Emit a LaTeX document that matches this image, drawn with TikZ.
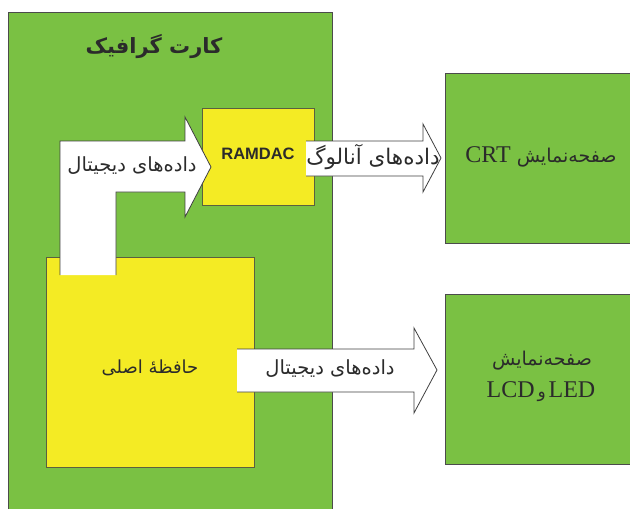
\documentclass[tikz,border=0pt]{standalone}
\usepackage{fontspec}
\setmainfont{Liberation Serif}
\newfontfamily\arabicfont[Script=Arabic]{DejaVu Sans}
\newfontfamily\ramfont{Liberation Sans}
\TeXXeTstate=1
\definecolor{cardgreen}{HTML}{7AC143}
\definecolor{chipyellow}{HTML}{F4EB24}
\definecolor{inkdark}{HTML}{2B2B2B}
\definecolor{edgegrey}{HTML}{5A6040}
\newcommand{\latinbig}{\rmfamily\fontsize{24}{28}\selectfont}
\tikzset{
  greenbox/.style={fill=cardgreen,draw=inkdark!85,line width=1pt},
  chipbox/.style={fill=chipyellow,draw=edgegrey,line width=1pt},
  arrowfill/.style={fill=white,draw=none},
  arrowedge/.style={draw=inkdark!90,line width=0.8pt,line join=miter},
  lbl/.style={text=inkdark,inner sep=0pt,align=center},
  farsi/.style={lbl,font=\arabicfont\fontsize{19.5}{23}\selectfont}
}
\begin{document}
\begin{tikzpicture}[x=1pt,y=-1pt]
\useasboundingbox (0,0) rectangle (630,509);
\begin{scope}
\clip (0,0) rectangle (630,509);
\path[greenbox] (8.5,12) rectangle (332,520);
\path[chipbox] (202.5,108) rectangle (314.5,205);
\path[chipbox] (46.5,257.5) rectangle (254.5,467);
\path[greenbox] (445.5,73.5) rectangle (640,243);
\path[greenbox] (445.5,294) rectangle (640,464);
% arrow 1
\path[arrowfill] (60,275) -- (60,141) -- (185,141) -- (185,117) -- (211,167) -- (185,217) -- (185,192) -- (116,192) -- (116,275) -- cycle;
\draw[arrowedge] (60,275) -- (60,141) -- (185,141) -- (185,117) -- (211,167) -- (185,217) -- (185,192) -- (116,192) -- (116,275);
% arrow 2
\path[arrowfill] (306,141) -- (423,141) -- (423,124) -- (441,158) -- (423,192) -- (423,176) -- (306,176) -- cycle;
\draw[arrowedge] (306,141) -- (423,141) -- (423,124) -- (441,158) -- (423,192) -- (423,176) -- (306,176);
% arrow 3
\path[arrowfill] (237,349) -- (414,349) -- (414,328) -- (437,370) -- (414,413) -- (414,392) -- (237,392) -- cycle;
\draw[arrowedge] (237,349) -- (414,349) -- (414,328) -- (437,370) -- (414,413) -- (414,392) -- (237,392);
\end{scope}
\node[lbl,font=\arabicfont\bfseries\fontsize{21}{25}\selectfont] (title) at (154,47) {\beginR کارت گرافیک\endR};
\node[lbl,font=\ramfont\bfseries\fontsize{16.5}{20}\selectfont] (ramdac) at (258,154) {RAMDAC};
\node[farsi] (dig1) at (132,166) {\beginR داده‌های دیجیتال\endR};
\node[farsi,font=\arabicfont\fontsize{21.5}{25}\selectfont] (ana) at (373,157) {\beginR داده‌های آنالوگ\endR};
\node[farsi] (dig2) at (330,369) {\beginR داده‌های دیجیتال\endR};
\node[farsi,font=\arabicfont\fontsize{18}{22}\selectfont] (mem) at (150,368) {\beginR حافظهٔ اصلی\endR};
\node[farsi,font=\arabicfont\fontsize{19}{23}\selectfont] (crt) at (541,157) {\beginR صفحه‌نمایش \beginL{\latinbig CRT}\endL\endR};
\node[farsi,font=\arabicfont\fontsize{19}{23}\selectfont] (lcd1) at (542,361) {\beginR صفحه‌نمایش\endR};
\node[farsi,font=\arabicfont\fontsize{17}{23}\selectfont] (lcd2) at (541,392) {\beginR\beginL{\latinbig LED}\endL\,و\,\beginL{\latinbig LCD}\endL\endR};
\end{tikzpicture}
\end{document}
